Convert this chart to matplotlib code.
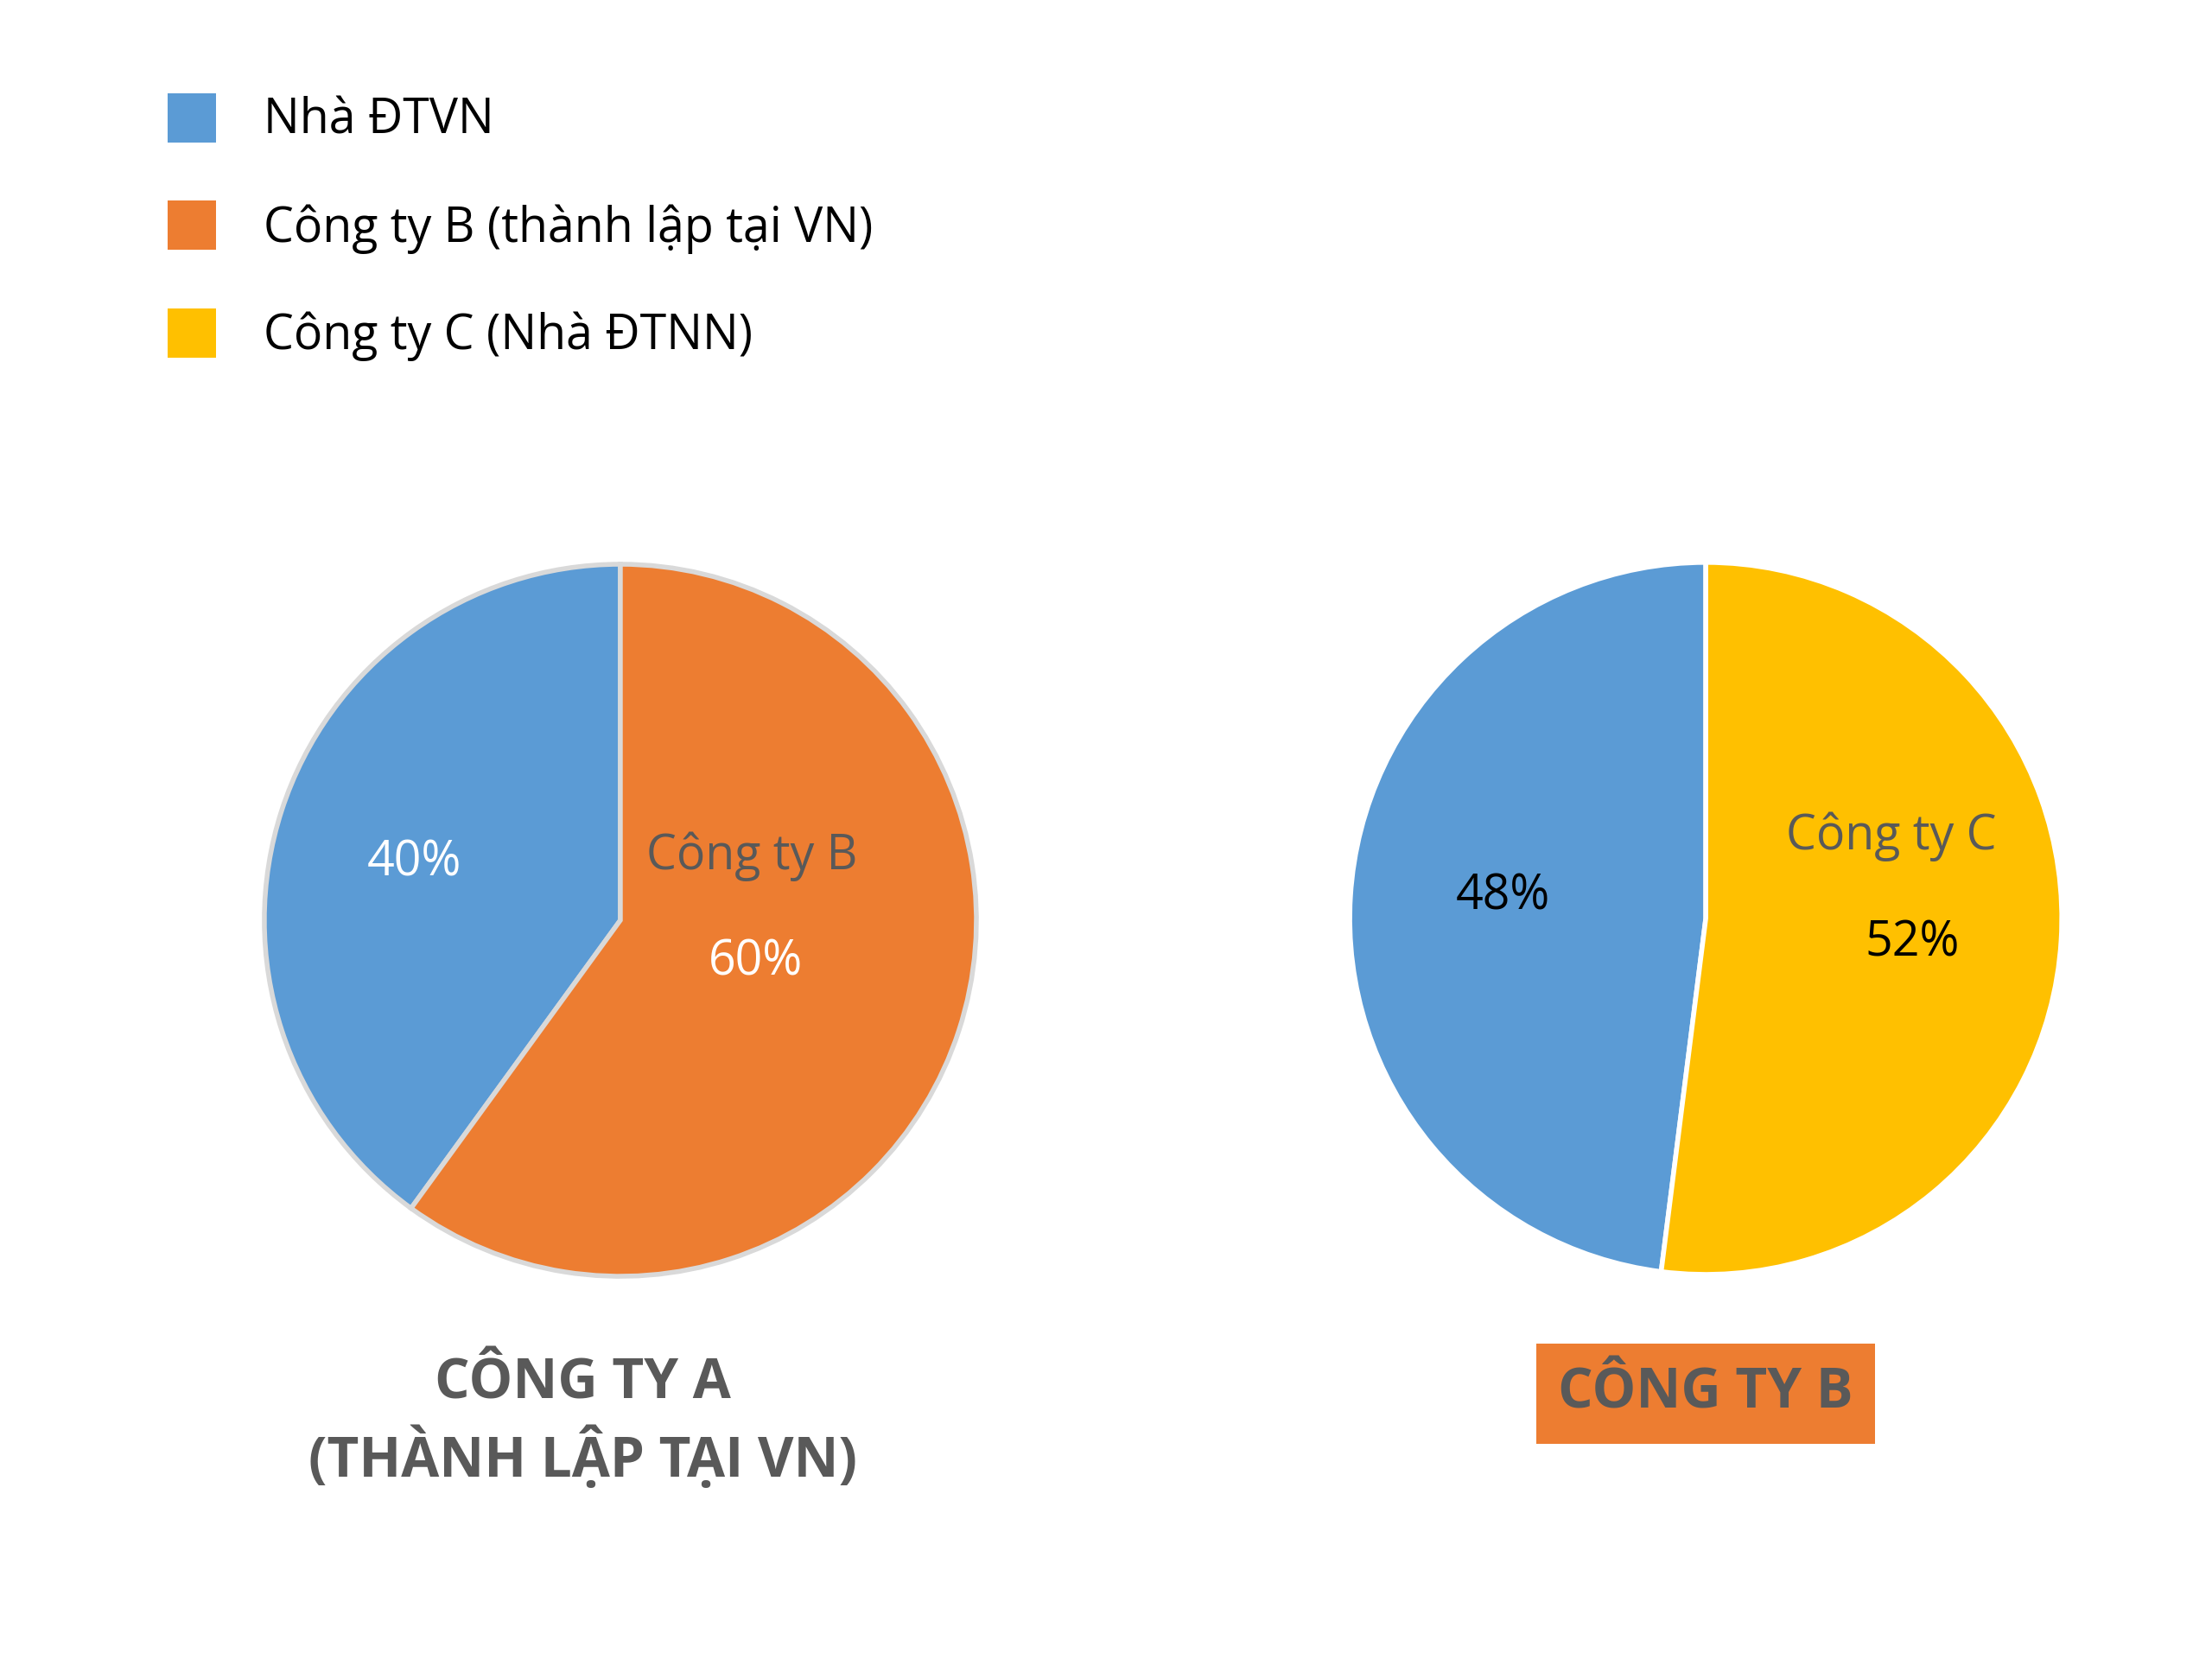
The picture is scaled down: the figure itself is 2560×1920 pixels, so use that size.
import matplotlib
matplotlib.use("Agg")
import matplotlib.pyplot as plt
from matplotlib.patches import Patch

plt.rcParams['font.family'] = ['Open Sans', 'Noto Sans', 'DejaVu Sans']

# data
legend_labels = ['Nhà ĐTVN', 'Công ty B (thành lập tại VN)', 'Công ty C (Nhà ĐTNN)']
legend_colors = ['#5B9BD5', '#ED7D31', '#FFC000']

a_values = [40, 60]
a_colors = ['#5B9BD5', '#ED7D31']
a_title = 'CÔNG TY A\n(THÀNH LẬP TẠI VN)'

b_values = [48, 52]
b_colors = ['#5B9BD5', '#FFC000']
b_title = 'CÔNG TY B'

gray = '#595959'

fig = plt.figure(figsize=(25.6, 19.2), dpi=100)

# pie A
ax1 = fig.add_axes([0.1195, 0.2307, 0.3219, 0.4292])
ax1.pie(a_values, colors=a_colors, startangle=90, counterclock=True,
        wedgeprops=dict(edgecolor='#D9D9D9', linewidth=4))
ax1.set_xlim(-1, 1)
ax1.set_ylim(-1, 1)
ax1.set_aspect('equal')
ax1.axis('off')
ax1.text(-0.58, 0.16, '%d%%' % a_values[0], color='white', fontsize=40,
         ha='center', va='center')
ax1.text(0.37, 0.18, 'Công ty B', color=gray, fontsize=40,
         ha='center', va='center')
ax1.text(0.38, -0.12, '%d%%' % a_values[1], color='white', fontsize=40,
         ha='center', va='center')

# pie B
ax2 = fig.add_axes([0.6102, 0.2318, 0.3219, 0.4292])
ax2.pie(b_values, colors=b_colors, startangle=90, counterclock=True,
        wedgeprops=dict(edgecolor='white', linewidth=4))
ax2.set_xlim(-1, 1)
ax2.set_ylim(-1, 1)
ax2.set_aspect('equal')
ax2.axis('off')
ax2.text(-0.57, 0.06, '%d%%' % b_values[0], color='black', fontsize=40,
         ha='center', va='center')
ax2.text(0.52, 0.23, 'Công ty C', color=gray, fontsize=40,
         ha='center', va='center')
ax2.text(0.58, -0.07, '%d%%' % b_values[1], color='black', fontsize=40,
         ha='center', va='center')

# titles
fig.text(413 / 1568, 1 - 1009 / 1176, a_title, color=gray, fontsize=46,
         fontweight='bold', ha='center', va='center', linespacing=1.3)
fig.text(1209 / 1568, 1 - 988 / 1176, b_title, color=gray, fontsize=46,
         fontweight='bold', ha='center', va='center',
         bbox=dict(boxstyle='square,pad=0.4', facecolor='#ED7D31',
                   edgecolor='none'))

# legend
handles = [Patch(facecolor=c, edgecolor='none') for c in legend_colors]
fig.legend(handles, legend_labels, loc='upper left',
           bbox_to_anchor=(119 / 1568, 1 - 66 / 1176), frameon=False,
           fontsize=40, handlelength=1.0, handleheight=1.2,
           labelspacing=1.14, handletextpad=1.0, borderpad=0,
           borderaxespad=0)

fig.savefig('out.png', dpi=100, facecolor='white')
